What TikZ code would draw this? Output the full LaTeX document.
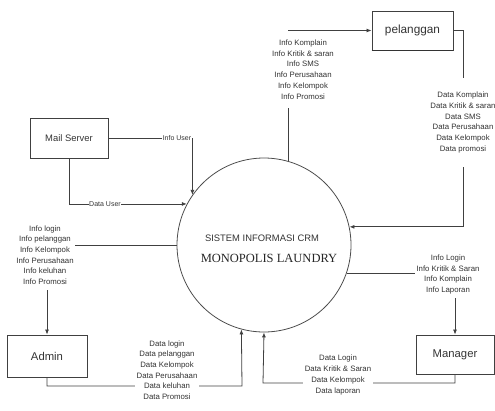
\documentclass[tikz,border=0pt]{standalone}
\usepackage{fontspec}
\setmainfont{Liberation Sans}
\newfontfamily\serifx{Liberation Serif}
\usetikzlibrary{arrows.meta}
\begin{document}
\begin{tikzpicture}[x=1pt,y=-1pt,
  line/.style={draw=black!75, line width=0.8pt},
  arr/.style={line, -{Latex[length=5pt,width=4pt]}},
  ent/.style={draw=black!75, line width=0.9pt, rectangle, inner sep=0pt},
  lbl/.style={fill=white, align=center, inner xsep=1.5pt, font=\fontsize{7.8}{10.7}\selectfont, text=black!80},
  slbl/.style={fill=white, inner sep=0.5pt, font=\fontsize{7}{8}\selectfont, text=black!80}
]
\useasboundingbox (0,0) rectangle (495,410);

% entities
\node[draw=black!70, line width=0.8pt, circle, minimum size=174pt, inner sep=0pt] (c) at (264,245) {};
\node[text=black!80, font=\fontsize{9.4}{11}\selectfont] (t1) at (262,238) {SISTEM INFORMASI CRM};
\node[text=black!85, font=\serifx\fontsize{12.5}{14}\selectfont] (t2) at (269,258) {MONOPOLIS LAUNDRY};

\node[ent, minimum width=81pt, minimum height=39pt, font=\fontsize{11.8}{13}\selectfont, text=black!80] (pel) at (412.5,30.5) {pelanggan};
\draw[line width=1.6pt, black!80] (pel.south west) -- (pel.south east);
\node[ent, minimum width=78pt, minimum height=40pt, font=\fontsize{9.4}{11}\selectfont, text=black!80] (mail) at (69,138) {Mail Server};
\node[ent, minimum width=80pt, minimum height=42pt, font=\fontsize{11.3}{13}\selectfont, text=black!80] (admin) at (47,356) {Admin};
\node[ent, minimum width=78pt, minimum height=39pt, font=\fontsize{11.3}{13}\selectfont, text=black!80] (mgr) at (455,354.5) {Manager};

% helper coordinates
\coordinate (k1) at (463,0);
\coordinate (k2) at (242,386);
\coordinate (k3) at (263,383);

% flows
\draw[arr] (c.74) |- (pel.west);
\node[lbl, inner ysep=9pt] (l1) at (303,69.5) {Info Komplain\\Info Kritik \& saran\\Info SMS\\Info Perusahaan\\Info Kelompok\\Info Promosi};

\draw[arr] (pel.east) -| (k1 |- c.12) -- (c.12);
\node[lbl, inner ysep=14pt] (l2) at (463,122.5) {Data Komplain\\Data Kritik \& saran\\Data SMS\\Data Perusahaan\\Data Kelompok\\Data promosi};

\draw[arr] (mail.east) -| (c.145);
\node[slbl] (l3) at (177,138) {Info User};
\draw[arr] (mail.south) |- (c.152);
\node[slbl] (l4) at (105,204) {Data User};

\draw[arr] (c.180) -| (admin.north);
\node[lbl, inner ysep=5pt] (l5) at (45,255) {Info login\\Info pelanggan\\Info Kelompok\\Info Perusahaan\\Info keluhan\\Info Promosi};

\draw[arr] (admin.south) |- (k2) -- (c.255);
\node[lbl, inner ysep=1pt] (l6) at (167,370) {Data login\\Data pelanggan\\Data Kelompok\\Data Perusahaan\\Data keluhan\\Data Promosi};

\draw[arr] (c.341) -| (mgr.north);
\node[lbl, inner ysep=4pt] (l7) at (448,274.5) {Info Login\\Info Kritik \& Saran\\Info Komplain\\Info Laporan};

\draw[arr] (mgr.south) |- (k3) -- (c.270);
\node[lbl, inner ysep=1pt] (l8) at (338,375) {Data Login\\Data Kritik \& Saran\\Data Kelompok\\Data laporan};
\end{tikzpicture}
\end{document}
